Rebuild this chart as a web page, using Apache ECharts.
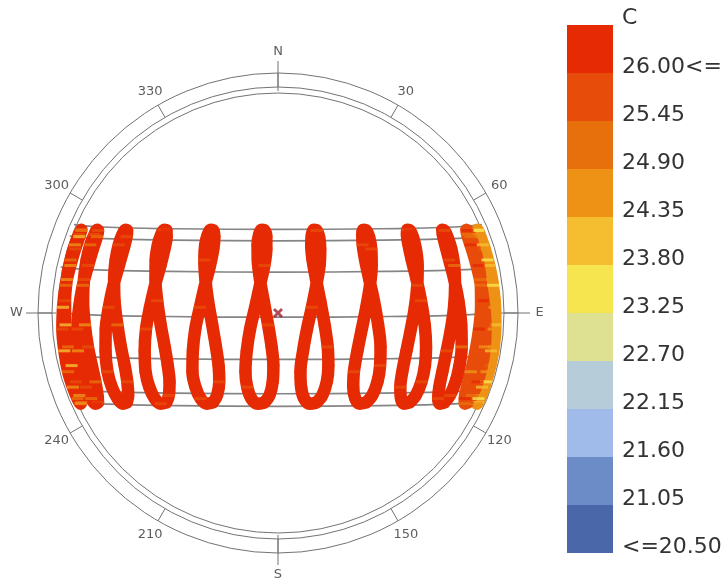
<!DOCTYPE html>
<html>
<head>
<meta charset="utf-8">
<title>Sun path</title>
<script src="https://cdn.jsdelivr.net/npm/echarts@6/dist/echarts.min.js"></script>
<style>
  html, body { margin: 0; padding: 0; background: #fff; }
  #chart { width: 726px; height: 580px; }
</style>
</head>
<body>
<div id="chart"></div>
<script>
// sample dates along every analemma
const dates = ['Jan 1', 'Jan 16', 'Feb 1', 'Feb 15', 'Mar 1', 'Mar 16', 'Apr 1', 'Apr 16', 'May 1', 'May 16', 'Jun 1', 'Jun 16',
  'Jul 1', 'Jul 16', 'Aug 1', 'Aug 16', 'Sep 1', 'Sep 16', 'Oct 1', 'Oct 16', 'Nov 1', 'Nov 16', 'Dec 1', 'Dec 16'];
// sun position north(+)/south(-) on each date, % of horizon radius
const sunNorth = [-40.7, -37.5, -31.3, -23.9, -15.4, -5.4, 5.6, 15.2, 24.1, 31.0, 35.7, 37.8,
  37.5, 34.7, 29.1, 21.6, 12.6, 2.6, -7.3, -17.2, -26.7, -33.7, -38.9, -41.2];

const hours = ['07:00', '08:00', '09:00', '10:00', '11:00', '12:00', '13:00', '14:00', '15:00', '16:00', '17:00', '18:00'];
// sun position east(+)/west(-) for each hour, % of horizon radius
const east07 = [90.9, 92.4, 94.5, 96.5, 98.1, 98.8, 98.5, 97.2, 95.2, 93.1, 91.4, 90.6, 90.9, 92.0, 94.0, 96.0, 97.7, 98.4, 98.0, 96.8, 94.8, 92.7, 91.1, 90.4];
const east08 = [86.2, 88.2, 90.7, 92.7, 94.0, 94.3, 93.4, 91.8, 89.6, 87.5, 86.0, 85.6, 86.2, 87.5, 89.4, 91.2, 92.2, 92.3, 91.4, 89.8, 87.7, 85.9, 84.9, 84.9];
const east09 = [75.6, 78.1, 80.7, 82.5, 83.5, 83.3, 82.0, 80.1, 77.8, 76.0, 74.9, 74.7, 75.6, 77.0, 78.8, 80.1, 80.5, 80.0, 78.6, 76.7, 74.7, 73.3, 72.8, 73.6];
const east10 = [59.8, 62.6, 65.2, 66.8, 67.3, 66.7, 65.0, 63.0, 60.8, 59.3, 58.6, 58.8, 59.9, 61.3, 62.7, 63.5, 63.3, 62.2, 60.4, 58.4, 56.5, 55.6, 55.9, 57.3];
const east11 = [40.0, 42.8, 45.2, 46.4, 46.6, 45.5, 43.6, 41.5, 39.6, 38.5, 38.3, 38.9, 40.1, 41.4, 42.4, 42.6, 41.8, 40.1, 38.1, 36.1, 34.5, 34.2, 35.1, 37.1];
const east12 = [17.5, 20.1, 22.2, 22.9, 22.6, 21.2, 19.2, 17.3, 15.7, 15.1, 15.4, 16.3, 17.6, 18.7, 19.2, 18.9, 17.4, 15.4, 13.2, 11.4, 10.2, 10.5, 11.9, 14.4];
const east13 = [-6.2, -3.9, -2.4, -2.1, -2.9, -4.5, -6.5, -8.2, -9.2, -9.3, -8.6, -7.4, -6.1, -5.3, -5.3, -6.2, -8.2, -10.4, -12.7, -14.2, -14.8, -14.0, -12.1, -9.3];
const east14 = [-29.6, -27.7, -26.7, -27.0, -28.2, -29.9, -31.8, -33.0, -33.5, -33.1, -31.9, -30.6, -29.4, -28.9, -29.4, -30.9, -33.2, -35.5, -37.6, -38.7, -38.9, -37.5, -35.2, -32.4];
const east15 = [-50.8, -49.6, -49.3, -50.1, -51.5, -53.3, -54.9, -55.7, -55.6, -54.6, -53.1, -51.7, -50.7, -50.6, -51.6, -53.4, -55.9, -58.2, -60.0, -60.6, -60.2, -58.5, -56.0, -53.3];
const east16 = [-68.7, -68.1, -68.5, -69.7, -71.4, -73.0, -74.3, -74.5, -73.8, -72.4, -70.7, -69.3, -68.6, -68.8, -70.2, -72.3, -74.8, -76.9, -78.3, -78.4, -77.5, -75.5, -72.9, -70.5];
const east17 = [-81.8, -82.0, -83.0, -84.6, -86.4, -87.8, -88.6, -88.2, -87.0, -85.3, -83.4, -82.2, -81.8, -82.3, -84.1, -86.3, -88.7, -90.4, -91.2, -90.9, -89.5, -87.3, -84.9, -83.0];
const east18 = [-89.4, -90.3, -91.9, -93.8, -95.5, -96.6, -96.8, -96.0, -94.3, -92.3, -90.5, -89.4, -89.4, -90.3, -92.2, -94.4, -96.5, -97.7, -98.0, -97.1, -95.4, -93.2, -91.1, -89.7];

// dry bulb temperature (C) at each hour / date
const temp07 = [24.2, 24.6, 23.6, 24.4, 24.7, 23.9, 24.5, 24.8, 23.5, 24.3, 24.6, 24.1, 23.7, 24.5, 24.8, 24.2, 23.6, 24.6, 24.4, 23.9, 24.7, 24.3, 23.5, 24.5];
const temp08 = [25.7, 25.2, 26.1, 25.8, 24.8, 25.9, 26.2, 25.3, 25.8, 26.0, 24.9, 25.6, 26.1, 25.4, 25.7, 26.2, 25.0, 25.8, 26.1, 25.5, 24.7, 25.9, 26.0, 25.3];
const temp09 = [26.3, 25.8, 26.4, 26.2, 25.2, 26.5, 26.1, 26.4, 25.6, 26.3, 26.5, 26.2, 25.9, 26.4, 26.3, 25.4, 26.2, 26.5, 26.1, 25.7, 26.3, 26.4, 25.9, 26.2];
const temp10 = [26.5, 26.3, 25.8, 26.6, 26.4, 26.5, 25.5, 26.6, 26.3, 26.7, 26.4, 25.9, 26.5, 26.6, 26.2, 26.5, 25.7, 26.6, 26.4, 26.5, 26.3, 25.8, 26.6, 26.4];
const temp11 = [26.7, 26.4, 26.6, 25.8, 26.7, 26.5, 26.8, 26.3, 26.6, 25.9, 26.7, 26.5, 26.6, 26.8, 25.7, 26.6, 26.4, 26.7, 26.5, 26.8, 25.9, 26.6, 26.7, 26.5];
const temp12 = [26.8, 26.6, 26.5, 26.7, 25.8, 26.8, 26.6, 26.7, 26.5, 26.9, 26.4, 26.7, 25.9, 26.8, 26.6, 26.7, 26.5, 25.8, 26.7, 26.8, 26.6, 26.7, 26.4, 26.8];
const temp13 = [26.9, 26.7, 26.5, 26.8, 26.6, 25.9, 26.8, 26.7, 26.6, 26.9, 26.8, 26.5, 26.7, 26.9, 26.6, 25.8, 26.8, 26.7, 26.9, 26.5, 26.8, 25.9, 26.7, 26.8];
const temp14 = [26.8, 26.6, 25.8, 26.7, 26.9, 26.5, 26.8, 26.6, 25.9, 26.7, 26.8, 26.6, 26.9, 26.7, 26.5, 26.8, 26.6, 25.7, 26.9, 26.7, 26.6, 26.8, 25.9, 26.7];
const temp15 = [26.7, 25.8, 26.6, 26.8, 26.5, 26.7, 25.9, 26.6, 26.8, 26.4, 26.7, 25.8, 26.6, 26.7, 26.5, 26.8, 26.4, 26.6, 25.7, 26.7, 26.5, 26.8, 26.6, 25.9];
const temp16 = [26.4, 26.1, 25.6, 26.5, 26.3, 25.4, 26.4, 26.2, 26.5, 25.7, 26.3, 26.4, 26.1, 25.5, 26.4, 26.2, 26.5, 25.8, 26.3, 26.4, 25.6, 26.2, 26.5, 26.1];
const temp17 = [25.9, 26.2, 25.3, 26.1, 25.7, 24.8, 26.0, 25.6, 26.2, 25.4, 25.9, 26.1, 25.5, 24.9, 26.0, 25.8, 25.2, 26.1, 25.7, 24.7, 26.0, 25.6, 25.3, 26.1];
const temp18 = [25.4, 24.6, 25.8, 24.2, 25.1, 23.9, 25.6, 24.8, 25.3, 24.4, 25.7, 24.9, 25.2, 24.1, 25.5, 24.7, 25.0, 24.3, 25.6, 23.8, 25.2, 24.6, 25.4, 24.8];
// prevailing temperature of each hour's analemma
const hourTemp = [24.5, 25.7, 26.3, 26.5, 26.6, 26.7, 26.8, 26.8, 26.7, 26.5, 26.1, 26.0];

// day arcs (21st of the month), [east, north] in % of horizon radius
const arcJun = [[92.7, 40.2], [80.3, 39.1], [46.3, 38.3], [0, 38.0], [-46.3, 38.3], [-80.3, 39.1], [-92.7, 40.2]];
const arcMay = [[94.7, 35.0], [82.0, 33.9], [47.4, 33.1], [0, 32.8], [-47.4, 33.1], [-82.0, 33.9], [-94.7, 35.0]];
const arcApr = [[98.8, 20.9], [85.6, 19.7], [49.4, 18.9], [0, 18.6], [-49.4, 18.9], [-85.6, 19.7], [-98.8, 20.9]];
const arcMar = [[101, 0.5], [87.5, -0.7], [50.5, -1.6], [0, -1.9], [-50.5, -1.6], [-87.5, -0.7], [-101, 0.5]];
const arcFeb = [[99.2, -18.8], [86.0, -19.9], [49.6, -20.8], [0, -21.1], [-49.6, -20.8], [-86.0, -19.9], [-99.2, -18.8]];
const arcJan = [[94.9, -34.5], [82.2, -35.6], [47.5, -36.4], [0, -36.7], [-47.5, -36.4], [-82.2, -35.6], [-94.9, -34.5]];
const arcDec = [[92.7, -40.2], [80.3, -41.3], [46.3, -42.1], [0, -42.4], [-46.3, -42.1], [-80.3, -41.3], [-92.7, -40.2]];

// compass labels (azimuth in degrees)
const compassAngles = [30, 60, 120, 150, 210, 240, 300, 330];
const cardinalAngles = [0, 90, 180, 270];
const cardinalNames = ['N', 'E', 'S', 'W'];

// legend
const legendLabels = ['26.00<=', '25.45', '24.90', '24.35', '23.80', '23.25', '22.70', '22.15', '21.60', '21.05', '<=20.50'];
const legendBounds = [26.00, 25.45, 24.90, 24.35, 23.80, 23.25, 22.70, 22.15, 21.60, 21.05];
const legendColors = ['#e62a04', '#e84c0a', '#e8700c', '#ee9216', '#f5be30', '#f7e54f', '#dfe192', '#b6ccd8', '#a0bbea', '#6c8cc8', '#4a68a9'];

const eastByHour = [east07, east08, east09, east10, east11, east12, east13, east14, east15, east16, east17, east18];
const tempByHour = [temp07, temp08, temp09, temp10, temp11, temp12, temp13, temp14, temp15, temp16, temp17, temp18];
const dayArcs = [arcJun, arcMay, arcApr, arcMar, arcFeb, arcJan, arcDec];

const FONT = 'DejaVu Sans';

function makePieces(color) {
  return legendLabels.map(function (label, i) {
    const p = { label: label, color: color ? color : legendColors[i] };
    if (i < legendBounds.length) p.gte = legendBounds[i];
    if (i > 0) p.lt = legendBounds[i - 1];
    return p;
  });
}
function colorOf(t) {
  for (let i = 0; i < legendBounds.length; i++) {
    if (t >= legendBounds[i]) return legendColors[i];
  }
  return legendColors[legendColors.length - 1];
}

let chart = echarts.init(document.getElementById('chart'));

const series = [];
dayArcs.forEach(function (arc) {
  series.push({
    type: 'line', xAxisIndex: 0, yAxisIndex: 0,
    data: arc, smooth: true, symbol: 'none', silent: true, z: 1,
    lineStyle: { color: '#858585', width: 1.7 }
  });
});
const stripeIndex = [];
hours.forEach(function (h, k) {
  const pts = dates.map(function (d, i) { return [eastByHour[k][i], sunNorth[i], tempByHour[k][i]]; });
  series.push({
    name: h, type: 'line', data: pts.concat([pts[0]]),
    smooth: 0.35, symbol: 'none', silent: true, z: 3,
    lineStyle: { color: colorOf(hourTemp[k]), width: 12.5, cap: 'round', join: 'round' }
  });
  stripeIndex.push(series.length);
  series.push({
    name: h, type: 'scatter', data: pts, symbol: 'rect', symbolSize: [12, 3], silent: true, z: 4
  });
});
// site marker at the zenith
series.push({
  type: 'scatter', data: [[0, 0]], silent: true, z: 6,
  symbol: 'path://M2,0 L5,3 L8,0 L10,2 L7,5 L10,8 L8,10 L5,7 L2,10 L0,8 L3,5 L0,2 Z',
  symbolSize: 10, itemStyle: { color: '#9e1e2e' }
});
// compass labels, placed in the outer ring's polar system (radius 1 = outer circle)
const compassLabel = { show: true, position: 'inside', color: '#333', fontSize: 13, fontFamily: FONT };
series.push({
  type: 'scatter', coordinateSystem: 'polar', polarIndex: 0, silent: true, z: 5, clip: false,
  data: compassAngles.map(function (a) { return { value: [1.065, a], name: String(a) }; }),
  symbolSize: 1, itemStyle: { color: 'rgba(0,0,0,0)' },
  label: Object.assign({ formatter: '{b}' }, compassLabel)
});
series.push({
  type: 'scatter', coordinateSystem: 'polar', polarIndex: 0, silent: true, z: 5, clip: false,
  data: cardinalAngles.map(function (a, i) { return { value: [1.09, a], name: cardinalNames[i] }; }),
  symbolSize: 1, itemStyle: { color: 'rgba(0,0,0,0)' },
  label: Object.assign({ formatter: '{b}' }, compassLabel)
});
// holder series for the legend labels
const labelHolder = series.length;
series.push({ type: 'scatter', data: [], silent: true });

function ring(radius) {
  return { center: [278, 313], radius: radius };
}

const option = {
  animation: false,
  backgroundColor: '#ffffff',
  textStyle: { fontFamily: FONT },
  title: {
    text: 'C', left: 622, top: 7, padding: 0,
    textStyle: { fontFamily: FONT, fontSize: 22, fontWeight: 'normal', color: '#333' }
  },
  grid: { left: 58, top: 93, width: 440, height: 440 },
  xAxis: { type: 'value', min: -100, max: 100, show: false },
  yAxis: { type: 'value', min: -100, max: 100, show: false },
  polar: [ring(240), ring(226), ring(220), ring(252)],
  radiusAxis: [0, 1, 2, 3].map(function (i) {
    return { polarIndex: i, type: 'value', min: 0, max: 1, show: false, splitLine: { show: false } };
  }),
  angleAxis: [
    {
      polarIndex: 0, type: 'value', min: 0, max: 360, interval: 30, startAngle: 90, clockwise: true,
      axisLine: { lineStyle: { color: '#737373', width: 1 } },
      axisTick: { show: true, inside: true, length: 14, lineStyle: { color: '#737373' } },
      axisLabel: { show: false },
      splitLine: { show: false }
    },
    {
      polarIndex: 1, type: 'value', min: 0, max: 360, startAngle: 90,
      axisLine: { lineStyle: { color: '#737373', width: 1 } },
      axisTick: { show: false }, axisLabel: { show: false }, splitLine: { show: false }
    },
    {
      polarIndex: 2, type: 'value', min: 0, max: 360, startAngle: 90,
      axisLine: { lineStyle: { color: '#737373', width: 1 } },
      axisTick: { show: false }, axisLabel: { show: false }, splitLine: { show: false }
    },
    {
      polarIndex: 3, type: 'value', min: 0, max: 360, interval: 90, startAngle: 90, clockwise: true,
      axisLine: { show: false },
      axisTick: { show: true, inside: true, length: 30, lineStyle: { color: '#737373' } },
      axisLabel: { show: false },
      splitLine: { show: false }
    }
  ],
  visualMap: [
    {
      type: 'piecewise', seriesIndex: stripeIndex, dimension: 2,
      orient: 'vertical', left: 567, top: 25, padding: 0,
      itemWidth: 46, itemHeight: 48, itemGap: 0, itemSymbol: 'rect',
      showLabel: false, selectedMode: false,
      pieces: makePieces()
    },
    {
      type: 'piecewise', seriesIndex: [labelHolder], dimension: 1,
      orient: 'vertical', left: 567, top: 43, padding: 0, align: 'left',
      itemWidth: 46, itemHeight: 48, itemGap: 0, itemSymbol: 'rect', textGap: 9,
      selectedMode: false,
      textStyle: { fontFamily: FONT, fontSize: 22, color: '#333' },
      pieces: makePieces('rgba(0,0,0,0)')
    }
  ],
  series: series
};

chart.clear();
chart.setOption(option);
</script>
</body>
</html>
